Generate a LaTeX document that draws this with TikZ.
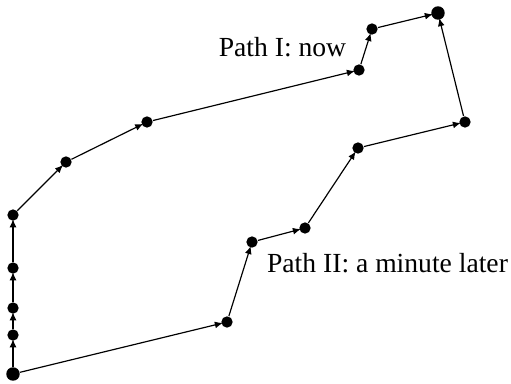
\documentclass[tikz,border=0pt]{standalone}
\usepackage{fontspec}
\setmainfont{Liberation Serif}
\usetikzlibrary{arrows.meta}

\begin{document}
\begin{tikzpicture}[
  x=0.4237pt, y=-0.4237pt,
  dot/.style={circle, fill=black, inner sep=0pt, minimum size=4.8pt},
  bigdot/.style={circle, fill=black, inner sep=0pt, minimum size=5.7pt},
  hop/.style={line width=0.5pt, -{Latex[length=3.4pt,width=2.9pt]},
    shorten >=-0.8pt},
  label/.style={font=\fontsize{11.7}{14}\selectfont}
]
\useasboundingbox (0,0) rectangle (511,383);

% End points
\node[bigdot] (start) at (13,374) {};
\node[bigdot] (goal) at (438,13) {};

% Path I
\node[dot] (a1) at (13,335) {};
\node[dot] (a2) at (13,308) {};
\node[dot] (a3) at (13,268) {};
\node[dot] (a4) at (13,215) {};
\node[dot] (a5) at (66,162) {};
\node[dot] (a6) at (147,122) {};
\node[dot] (a7) at (359,70) {};
\node[dot] (a8) at (372,29) {};

% Path II
\node[dot] (b1) at (227,322) {};
\node[dot] (b2) at (252,242) {};
\node[dot] (b3) at (305,228) {};
\node[dot] (b4) at (358,148) {};
\node[dot] (b5) at (465,122) {};

% Hops
\draw[hop] (start) -- (a1);
\draw[hop] (a1) -- (a2);
\draw[hop] (a2) -- (a3);
\draw[hop] (a3) -- (a4);
\draw[hop] (a4) -- (a5);
\draw[hop] (a5) -- (a6);
\draw[hop] (a6) -- (a7);
\draw[hop] (a7) -- (a8);
\draw[hop] (a8) -- (goal);
\draw[hop] (start) -- (b1);
\draw[hop] (b1) -- (b2);
\draw[hop] (b2) -- (b3);
\draw[hop] (b3) -- (b4);
\draw[hop] (b4) -- (b5);
\draw[hop] (b5) -- (goal);

% Labels
\node[label] (now) at (282.5,47.5) {Path I: now};
\node[label] (later) at (387.5,263.5) {Path II: a minute later};

\end{tikzpicture}
\end{document}
